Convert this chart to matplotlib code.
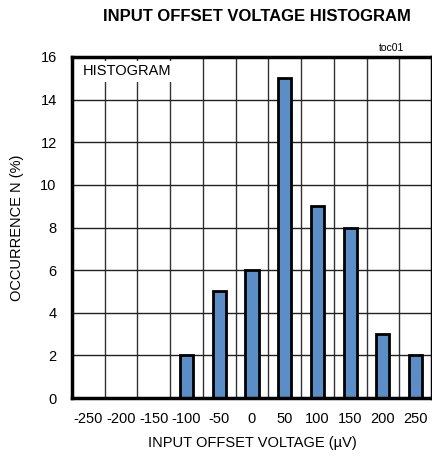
import matplotlib
matplotlib.use("Agg")
import matplotlib.pyplot as plt
import numpy as np

# data
voltage = [-250, -200, -150, -100, -50, 0, 50, 100, 150, 200, 250]
occurrence = [0, 0, 0, 2, 5, 6, 15, 9, 8, 3, 2]
tick_labels = [str(v) for v in voltage]

plt.rcParams['font.family'] = ['Liberation Sans', 'DejaVu Sans']

fig = plt.figure(figsize=(4.32, 4.58), dpi=100)
ax = fig.add_axes([72 / 432, 60 / 458, 360 / 432, 341 / 458])

# grid between the bars (bin edges) and at every y tick
for xg in np.arange(-225, 275, 50):
    ax.axvline(xg, color='#333333', lw=1.0, zorder=1)
for yg in range(2, 16, 2):
    ax.axhline(yg, color='#222222', lw=1.0, zorder=1)

ax.bar(voltage, occurrence, width=20, color='#5b8ec6', edgecolor='black',
       linewidth=2, zorder=3)

ax.set_xlim(-275, 275)
ax.set_ylim(0, 16)
ax.set_xticks(voltage)
ax.set_xticklabels(tick_labels)
ax.set_yticks(range(0, 17, 2))
ax.tick_params(length=0, labelsize=10.5, pad=10)
ax.tick_params(axis='y', pad=11)
for s in ax.spines.values():
    s.set_linewidth(2.5)
    s.set_zorder(5)

ax.set_xlabel('INPUT OFFSET VOLTAGE (\u00b5V)', fontsize=10.5, labelpad=7)
ax.set_ylabel('OCCURRENCE N (%)', fontsize=10.5, labelpad=12)

ax.text(-258, 15.65, 'HISTOGRAM', fontsize=10.5, va='top', ha='left',
        bbox=dict(facecolor='white', edgecolor='none', pad=2.5), zorder=2)
fig.text(0.935, 0.885, 'toc01', fontsize=7.5, ha='right', va='bottom')
fig.suptitle('INPUT OFFSET VOLTAGE HISTOGRAM', x=0.595, y=0.98,
             fontsize=12, fontweight='bold')

fig.savefig('out.png', dpi=100)
